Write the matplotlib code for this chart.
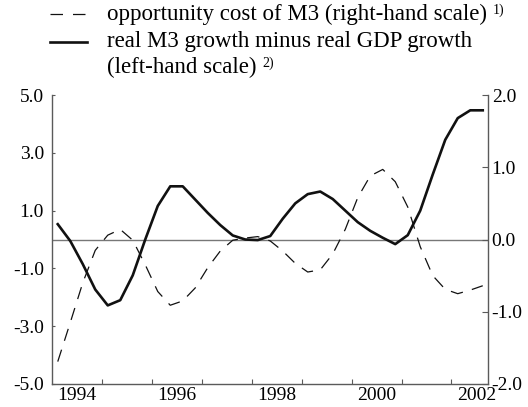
import matplotlib
matplotlib.use('Agg')
import matplotlib.pyplot as plt
from matplotlib.lines import Line2D

plt.rcParams['font.family'] = ['Liberation Serif', 'DejaVu Serif']
plt.rcParams['axes.unicode_minus'] = False

# quarterly data 1994Q1 - 2002Q3
quarters = [f"{y}Q{q}" for y in range(1994, 2003) for q in range(1, 5)][:35]

# real M3 growth minus real GDP growth (left-hand scale)
money_gap = [0.53, -0.05, -0.85, -1.73,
             -2.28, -2.10, -1.24, 0.00,
             1.16, 1.84, 1.84, 1.38,
             0.92, 0.50, 0.14, 0.00,
             -0.02, 0.12, 0.72, 1.25,
             1.57, 1.66, 1.40, 1.00,
             0.60, 0.30, 0.06, -0.16,
             0.15, 1.00, 2.25, 3.45,
             4.20, 4.47, 4.47]

# opportunity cost of M3 (right-hand scale)
opp_cost = [-1.69, -1.15, -0.60, -0.15,
            0.06, 0.14, -0.01, -0.35,
            -0.72, -0.91, -0.85, -0.67,
            -0.39, -0.16, -0.01, 0.02,
            0.04, -0.02, -0.16, -0.33,
            -0.45, -0.42, -0.20, 0.14,
            0.58, 0.88, 0.97, 0.80,
            0.45, -0.10, -0.50, -0.69,
            -0.75, -0.70, -0.64]

left_ticks = [5.0, 3.0, 1.0, -1.0, -3.0, -5.0]
right_ticks = [2.0, 1.0, 0.0, -1.0, -2.0]
year_labels = [1994, 1996, 1998, 2000, 2002]

# legend lines: (text, footnote)
legend_lines = [("opportunity cost of M3 (right-hand scale)", "1)"),
                ("real M3 growth minus real GDP growth", ""),
                ("(left-hand scale)", "2)")]

# mid-quarter positions
x = [int(s[:4]) + (int(s[-1]) - 0.5) / 4 for s in quarters]

grey = '#5a5a5a'
W, H = 528, 407

fig = plt.figure(figsize=(W / 100, H / 100), dpi=100)
ax = fig.add_axes([51.5 / W, 1 - 384 / H, 436 / W, 289 / H])
ax2 = ax.twinx()

ax.axhline(0, color='#777777', lw=1.0, zorder=1)
ax2.plot(x, opp_cost, color='#111111', lw=0.9, ls=(0, (10, 7.5)))
ax.plot(x, money_gap, color='#111111', lw=1.9, zorder=3)

ax.set_xlim(1994.0, 2002.72)
ax.set_ylim(-5, 5)
ax2.set_ylim(-2, 2)

ax.set_yticks(left_ticks)
ax.set_yticklabels([f"{v:.1f}" for v in left_ticks])
ax2.set_yticks(right_ticks)
ax2.set_yticklabels([f"{v:.1f}" for v in right_ticks])

ax.set_xticks(range(1995, 2003))
ax.set_xticklabels([])
ax.set_xticks([y + 0.5 for y in year_labels], minor=True)
ax.set_xticklabels([str(y) for y in year_labels], minor=True)

ax.tick_params(axis='x', which='major', direction='in', length=3.5,
               color=grey, width=0.8)
ax.tick_params(axis='x', which='minor', length=0, pad=2, labelsize=14)
ax.tick_params(axis='y', direction='in', length=2.5, color=grey, width=0.8,
               pad=5.5, labelsize=14)
ax2.tick_params(axis='y', direction='in', length=4, color=grey, width=0.8,
                pad=3, labelsize=14)

for a in (ax, ax2):
    a.spines['top'].set_visible(False)
    for s in a.spines.values():
        s.set_color(grey)
        s.set_linewidth(1.0)
ax.spines['right'].set_visible(False)
ax2.spines['left'].set_visible(False)
ax2.spines['bottom'].set_visible(False)

# legend drawn by hand above the plot
fig.add_artist(Line2D([50 / W, 85 / W], [1 - 14 / H, 1 - 14 / H],
                      color='#111111', lw=0.9, ls=(0, (10, 8))))
fig.add_artist(Line2D([50 / W, 87 / W], [1 - 42 / H, 1 - 42 / H],
                      color='#111111', lw=1.9))

tx = 107 / W
baselines = [20, 47, 73]
texts = []
for (label, note), b in zip(legend_lines, baselines):
    t = fig.text(tx, 1 - b / H, label, fontsize=16.5, va='baseline')
    texts.append((t, note, b))

fig.canvas.draw()
renderer = fig.canvas.get_renderer()
for t, note, b in texts:
    if note:
        ext = t.get_window_extent(renderer)
        fig.text((ext.x1 + 6) / W, 1 - (b - 6) / H, note, fontsize=10,
                 va='baseline')

fig.savefig('out.png', dpi=100)
